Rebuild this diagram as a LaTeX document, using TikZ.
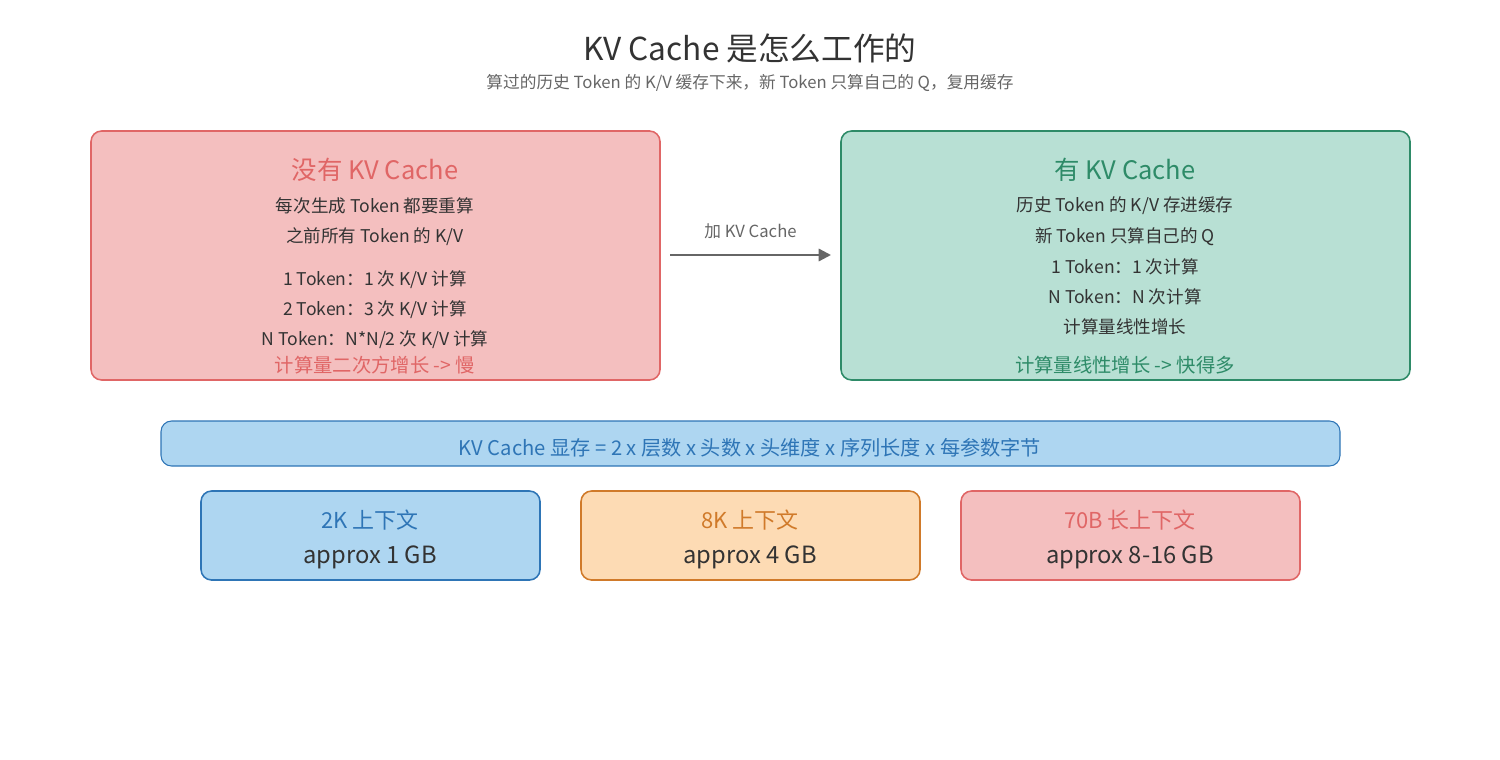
\documentclass[tikz,border=0pt]{standalone}
\usepackage{fontspec}
\setmainfont{Noto Sans CJK SC}
\usetikzlibrary{arrows.meta,positioning}
\definecolor{redfill}{HTML}{F4BFBF}
\definecolor{redline}{HTML}{E06666}
\definecolor{greenfill}{HTML}{B8E0D4}
\definecolor{greenline}{HTML}{2E8B68}
\definecolor{bluefill}{HTML}{AED6F1}
\definecolor{blueline}{HTML}{2E75B6}
\definecolor{orangefill}{HTML}{FDDBB4}
\definecolor{orangeline}{HTML}{D07A2A}
\definecolor{darktext}{HTML}{333333}
\definecolor{graytext}{HTML}{666666}
\begin{document}
\begin{tikzpicture}[x=0.02cm,y=-0.02cm,
    panel/.style={draw, rounded corners=6pt, line width=0.9pt},
    body/.style={text=darktext, font=\fontsize{10}{12}\selectfont, inner sep=0pt},
    head/.style={font=\fontsize{14.5}{17}\selectfont, inner sep=0pt},
    small/.style={font=\fontsize{12.5}{15}\selectfont, inner sep=0pt},
    value/.style={text=darktext, font=\fontsize{13.5}{16}\selectfont, inner sep=0pt}
]
    \useasboundingbox (0,0) rectangle (1500,760);
    % Title
    \node[text=darktext, font=\fontsize{18}{21}\selectfont] (title) at (750,48) {KV Cache 是怎么工作的};
    \node[text=graytext, font=\fontsize{9.5}{11}\selectfont] (subtitle) at (750,83) {算过的历史 Token 的 K/V 缓存下来，新 Token 只算自己的 Q，复用缓存};

    % Panels
    \draw[panel, fill=redfill, draw=redline] (91,131) rectangle (660,380);
    \draw[panel, fill=greenfill, draw=greenline] (841,131) rectangle (1410,380);
    \coordinate (nocache) at (660,255);
    \coordinate (withcache) at (841,255);

    % Without cache
    \node[head, text=redline] (nohead) at (375,170) {没有 KV Cache};
    \node[body] (no1) at (375,206) {每次生成 Token 都要重算};
    \node[body] (no2) at (375,237) {之前所有 Token 的 K/V};
    \node[body] (no3) at (375,280) {1 Token：1 次 K/V 计算};
    \node[body] (no4) at (375,310) {2 Token：3 次 K/V 计算};
    \node[body] (no5) at (375,340) {N Token：N*N/2 次 K/V 计算};
    \node[body, text=redline, font=\fontsize{11}{13}\selectfont] (noend) at (375,365) {计算量二次方增长 -> 慢};

    % With cache
    \node[head, text=greenline] (withhead) at (1125,170) {有 KV Cache};
    \node[body] (with1) at (1125,206) {历史 Token 的 K/V 存进缓存};
    \node[body] (with2) at (1125,237) {新 Token 只算自己的 Q};
    \node[body] (with3) at (1125,267) {1 Token：1 次计算};
    \node[body] (with4) at (1125,297) {N Token：N 次计算};
    \node[body] (with5) at (1125,327) {计算量线性增长};
    \node[body, text=greenline, font=\fontsize{11}{13}\selectfont] (withend) at (1125,365) {计算量线性增长 -> 快得多};

    % Arrow
    \draw[-{Triangle[length=7pt,width=7pt]}, graytext, line width=1.3pt] ([xshift=0.2cm]nocache) -- ([xshift=-0.2cm]withcache)
        node[midway, above=5pt, font=\fontsize{9.5}{11}\selectfont] {加 KV Cache};

    % Formula
    \draw[panel, fill=bluefill, draw=blueline, line width=0.6pt] (161,421) rectangle (1340,466);
    \node[text=blueline, font=\fontsize{11.5}{13}\selectfont, inner sep=0pt] (formula) at (750,448) {KV Cache 显存 = 2 x 层数 x 头数 x 头维度 x 序列长度 x 每参数字节};

    % Sizes
    \draw[panel, fill=bluefill, draw=blueline] (201,491) rectangle (540,580);
    \node[small, text=blueline] (ctxa) at (370,520) {2K 上下文};
    \node[value] (sizea) at (370,557) {approx 1 GB};
    \draw[panel, fill=orangefill, draw=orangeline] (581,491) rectangle (920,580);
    \node[small, text=orangeline] (ctxb) at (750,520) {8K 上下文};
    \node[value] (sizeb) at (750,557) {approx 4 GB};
    \draw[panel, fill=redfill, draw=redline] (961,491) rectangle (1300,580);
    \node[small, text=redline] (ctxc) at (1130,520) {70B 长上下文};
    \node[value] (sizec) at (1130,557) {approx 8-16 GB};
\end{tikzpicture}
\end{document}
